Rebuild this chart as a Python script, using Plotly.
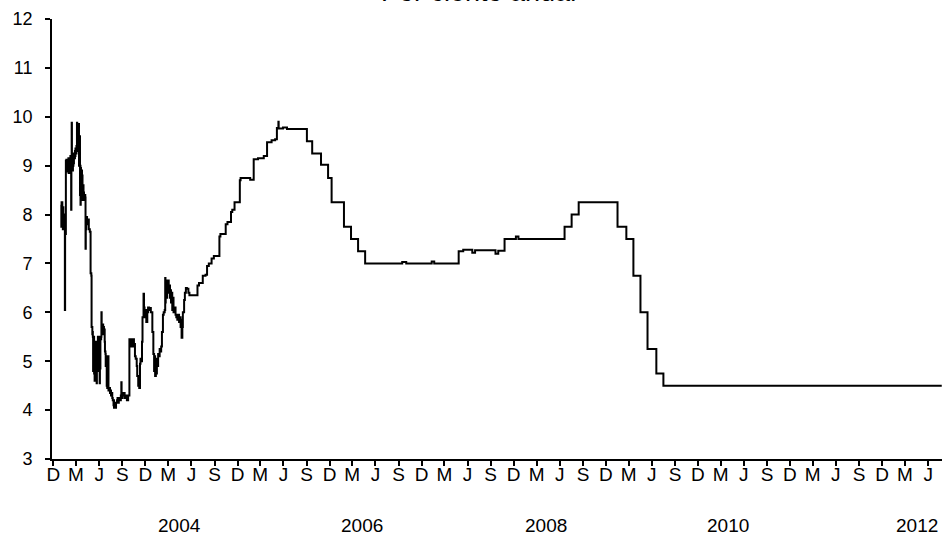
import plotly.graph_objects as go

# Tasa de interés interbancaria a un día (por ciento anual), lecturas del gráfico
fechas = [
    "2002-12-30", "2003-01-02", "2003-01-03", "2003-01-06", "2003-01-07", "2003-01-08",
    "2003-01-09", "2003-01-10", "2003-01-13", "2003-01-14", "2003-01-15", "2003-01-16",
    "2003-01-17", "2003-01-20", "2003-01-21", "2003-01-22", "2003-01-23", "2003-01-24",
    "2003-01-27", "2003-01-28", "2003-01-29", "2003-01-30", "2003-01-31", "2003-02-03",
    "2003-02-04", "2003-02-05", "2003-02-06", "2003-02-07", "2003-02-10", "2003-02-11",
    "2003-02-12", "2003-02-13", "2003-02-14", "2003-02-17", "2003-02-18", "2003-02-19",
    "2003-02-20", "2003-02-21", "2003-02-24", "2003-02-25", "2003-02-26", "2003-02-27",
    "2003-02-28", "2003-03-03", "2003-03-04", "2003-03-05", "2003-03-06", "2003-03-07",
    "2003-03-10", "2003-03-11", "2003-03-12", "2003-03-13", "2003-03-14", "2003-03-17",
    "2003-03-18", "2003-03-19", "2003-03-20", "2003-03-21", "2003-03-24", "2003-03-25",
    "2003-03-26", "2003-03-27", "2003-03-28", "2003-03-31", "2003-04-01", "2003-04-02",
    "2003-04-03", "2003-04-07", "2003-04-08", "2003-04-09", "2003-04-10", "2003-04-11",
    "2003-04-14", "2003-04-15", "2003-04-21", "2003-04-25", "2003-04-28", "2003-05-01",
    "2003-05-02", "2003-05-05", "2003-05-06", "2003-05-07", "2003-05-08", "2003-05-09",
    "2003-05-12", "2003-05-13", "2003-05-14", "2003-05-15", "2003-05-16", "2003-05-19",
    "2003-05-20", "2003-05-21", "2003-05-22", "2003-05-23", "2003-05-26", "2003-05-27",
    "2003-05-28", "2003-05-29", "2003-05-30", "2003-06-02", "2003-06-03", "2003-06-04",
    "2003-06-05", "2003-06-06", "2003-06-09", "2003-06-10", "2003-06-11", "2003-06-12",
    "2003-06-13", "2003-06-16", "2003-06-17", "2003-06-18", "2003-06-20", "2003-06-23",
    "2003-06-24", "2003-06-26", "2003-06-27", "2003-06-30", "2003-07-01", "2003-07-02",
    "2003-07-03", "2003-07-07", "2003-07-08", "2003-07-10", "2003-07-14", "2003-07-16",
    "2003-07-18", "2003-07-21", "2003-07-23", "2003-07-25", "2003-07-28", "2003-07-29",
    "2003-07-30", "2003-07-31", "2003-08-01", "2003-08-04", "2003-08-05", "2003-08-07",
    "2003-08-11", "2003-08-13", "2003-08-15", "2003-08-18", "2003-08-22", "2003-08-26",
    "2003-08-28", "2003-08-29", "2003-09-01", "2003-09-05", "2003-09-10", "2003-09-15",
    "2003-09-19", "2003-09-24", "2003-09-29", "2003-10-01", "2003-10-03", "2003-10-07",
    "2003-10-10", "2003-10-14", "2003-10-17", "2003-10-21", "2003-10-24", "2003-10-28",
    "2003-10-30", "2003-11-03", "2003-11-05", "2003-11-07", "2003-11-10", "2003-11-12",
    "2003-11-14", "2003-11-18", "2003-11-20", "2003-11-24", "2003-11-26", "2003-11-28",
    "2003-12-01", "2003-12-03", "2003-12-05", "2003-12-09", "2003-12-12", "2003-12-16",
    "2003-12-19", "2003-12-23", "2003-12-29", "2004-01-02", "2004-01-05", "2004-01-07",
    "2004-01-09", "2004-01-12", "2004-01-14", "2004-01-16", "2004-01-19", "2004-01-21",
    "2004-01-23", "2004-01-27", "2004-01-29", "2004-02-02", "2004-02-05", "2004-02-09",
    "2004-02-12", "2004-02-16", "2004-02-18", "2004-02-19", "2004-02-20", "2004-02-23",
    "2004-02-24", "2004-02-25", "2004-02-26", "2004-02-27", "2004-03-01", "2004-03-03",
    "2004-03-05", "2004-03-08", "2004-03-10", "2004-03-12", "2004-03-15", "2004-03-17",
    "2004-03-19", "2004-03-22", "2004-03-25", "2004-03-30", "2004-04-02", "2004-04-06",
    "2004-04-08", "2004-04-13", "2004-04-15", "2004-04-19", "2004-04-21", "2004-04-23",
    "2004-04-26", "2004-04-28", "2004-05-03", "2004-05-06", "2004-05-10", "2004-05-14",
    "2004-05-20", "2004-05-24", "2004-06-25", "2004-07-01", "2004-07-16", "2004-07-27",
    "2004-08-02", "2004-08-09", "2004-08-20", "2004-08-29", "2004-09-20", "2004-09-24",
    "2004-10-15", "2004-10-22", "2004-11-05", "2004-11-10", "2004-11-19", "2004-12-10",
    "2004-12-13", "2005-01-20", "2005-02-03", "2005-02-20", "2005-03-15", "2005-03-28",
    "2005-04-15", "2005-04-29", "2005-05-06", "2005-05-12", "2005-05-13", "2005-05-30",
    "2005-06-15", "2005-09-02", "2005-09-23", "2005-10-28", "2005-11-25", "2005-12-09",
    "2006-01-27", "2006-02-24", "2006-03-24", "2006-04-21", "2006-09-15", "2006-10-01",
    "2007-01-10", "2007-01-20", "2007-04-27", "2007-05-15", "2007-06-20", "2007-07-01",
    "2007-09-20", "2007-10-01", "2007-10-26", "2007-12-10", "2007-12-20", "2008-06-20",
    "2008-07-18", "2008-08-15", "2009-01-16", "2009-02-20", "2009-03-20", "2009-04-17",
    "2009-05-15", "2009-06-19", "2009-07-17", "2012-07-25",
]
tasas = [
    8.20, 7.75, 8.25, 7.80, 8.10, 7.70,
    8.15, 7.90, 8.00, 7.70, 7.95, 6.05,
    7.60, 9.10, 9.05, 9.12, 8.90, 9.10,
    8.88, 9.05, 8.95, 9.15, 8.85, 9.05,
    8.90, 9.10, 8.95, 9.20, 8.10, 9.00,
    9.88, 9.05, 8.90, 9.15, 9.00, 9.20,
    9.05, 9.25, 9.15, 9.30, 9.20, 9.35,
    9.25, 9.40, 9.30, 9.88, 9.40, 9.85,
    9.80, 9.30, 9.85, 9.00, 9.60, 8.40,
    9.00, 8.20, 8.95, 8.40, 8.90, 8.35,
    8.80, 8.30, 8.60, 8.35, 8.45, 8.30,
    8.40, 8.35, 7.30, 7.95, 7.70, 7.95,
    7.80, 7.90, 7.70, 7.65, 6.80, 6.75,
    5.70, 5.55, 5.60, 5.50, 4.80, 5.50,
    4.75, 5.40, 4.60, 5.35, 4.80, 5.30,
    4.70, 5.40, 4.55, 5.20, 4.90, 5.50,
    4.95, 5.40, 4.80, 5.50, 4.55, 5.30,
    4.85, 5.45, 5.50, 6.00, 5.60, 5.70,
    5.55, 5.75, 5.60, 5.70, 5.65, 5.40,
    5.20, 5.15, 4.90, 5.10, 4.50, 4.70,
    4.45, 5.10, 4.40, 4.45, 4.35, 4.40,
    4.30, 4.35, 4.25, 4.20, 4.10, 4.20,
    4.05, 4.15, 4.05, 4.10, 4.05, 4.15,
    4.20, 4.25, 4.15, 4.25, 4.20, 4.30,
    4.57, 4.25, 4.30, 4.35, 4.25, 4.30,
    4.20, 4.30, 5.45, 5.30, 5.40, 5.45,
    5.30, 5.45, 5.35, 5.10, 5.05, 4.90,
    4.70, 4.50, 4.60, 4.45, 4.95, 5.05,
    5.00, 5.40, 5.90, 6.38, 6.10, 6.05,
    5.90, 6.05, 5.80, 6.00, 6.10, 6.05,
    6.09, 6.00, 5.60, 5.15, 4.80, 5.10,
    4.70, 5.05, 4.75, 5.00, 4.90, 5.15,
    5.10, 5.25, 5.20, 5.30, 5.60, 5.95,
    6.00, 6.05, 6.70, 6.20, 6.65, 6.35,
    6.60, 6.30, 6.55, 6.45, 6.65, 6.40,
    6.55, 6.30, 6.45, 6.20, 6.40, 6.05,
    6.30, 6.00, 6.10, 5.95, 5.90, 5.85,
    5.95, 5.80, 5.90, 5.70, 5.85, 5.48,
    5.70, 6.00, 6.25, 6.40, 6.50, 6.48,
    6.40, 6.35, 6.55, 6.60, 6.75, 6.77,
    6.95, 7.00, 7.10, 7.15, 7.55, 7.60,
    7.80, 7.85, 8.05, 8.10, 8.25, 8.70,
    8.75, 8.71, 9.13, 9.15, 9.20, 9.48,
    9.52, 9.54, 9.77, 9.90, 9.76, 9.78,
    9.75, 9.50, 9.25, 9.02, 8.75, 8.25,
    7.75, 7.50, 7.25, 7.00, 7.03, 7.00,
    7.04, 7.00, 7.25, 7.28, 7.22, 7.27,
    7.20, 7.26, 7.50, 7.55, 7.50, 7.75,
    8.00, 8.25, 7.75, 7.50, 6.75, 6.00,
    5.25, 4.75, 4.50, 4.50,
]

# Eje horizontal: marcas trimestrales y etiquetas de año
marcas_fechas = [
    "2002-12-01", "2003-03-01", "2003-06-01", "2003-09-01",
    "2003-12-01", "2004-03-01", "2004-06-01", "2004-09-01",
    "2004-12-01", "2005-03-01", "2005-06-01", "2005-09-01",
    "2005-12-01", "2006-03-01", "2006-06-01", "2006-09-01",
    "2006-12-01", "2007-03-01", "2007-06-01", "2007-09-01",
    "2007-12-01", "2008-03-01", "2008-06-01", "2008-09-01",
    "2008-12-01", "2009-03-01", "2009-06-01", "2009-09-01",
    "2009-12-01", "2010-03-01", "2010-06-01", "2010-09-01",
    "2010-12-01", "2011-03-01", "2011-06-01", "2011-09-01",
    "2011-12-01", "2012-03-01", "2012-06-01",
]
marcas_texto = ["D", "M", "J", "S"] * 9 + ["D", "M", "J"]
anios = ["2004", "2006", "2008", "2010", "2012"]
anios_pos = ["2004-04-16", "2006-04-10", "2008-04-06", "2010-04-01", "2012-04-16"]
y_marcas = [3, 4, 5, 6, 7, 8, 9, 10, 11, 12]

FONT = "Liberation Sans, Arial, sans-serif"

fig = go.Figure()
fig.add_trace(go.Scatter(
    x=fechas, y=tasas, mode="lines",
    line=dict(color="black", width=2, shape="hv"),
    showlegend=False, hoverinfo="skip",
))

for txt, pos in zip(anios, anios_pos):
    fig.add_annotation(
        x=pos, xref="x", y=0, yref="paper", text=txt, showarrow=False,
        yanchor="middle", yshift=-66, font=dict(family=FONT, size=19, color="black"),
    )

fig.add_annotation(
    x=0.479, xref="paper", y=1, yref="paper", text="Por ciento anual",
    showarrow=False, yanchor="bottom", yshift=10,
    font=dict(family=FONT, size=27, color="black"),
)

fig.update_layout(
    width=945, height=548,
    margin=dict(l=52, r=3, t=19, b=89, autoexpand=False),
    paper_bgcolor="white", plot_bgcolor="white",
    font=dict(family=FONT, size=18, color="black"),
    xaxis=dict(
        type="date", range=["2002-11-26", "2012-07-26"], automargin=False,
        tickmode="array", tickvals=marcas_fechas, ticktext=marcas_texto,
        ticks="outside", ticklen=5, tickwidth=1.5, tickcolor="black",
        showline=True, linecolor="black", linewidth=1.8,
        showgrid=False, zeroline=False, tickangle=0, ticklabelstandoff=-8,
        tickfont=dict(family=FONT, size=19, color="black"),
    ),
    yaxis=dict(
        range=[3, 12], tickmode="array", tickvals=y_marcas, automargin=False,
        ticks="outside", ticklen=5, tickwidth=1.5, tickcolor="black",
        showline=True, linecolor="black", linewidth=1.8,
        showgrid=False, zeroline=False, ticklabelstandoff=9,
        tickfont=dict(family=FONT, size=18, color="black"),
    ),
)

fig.write_html(
    "out.html",
    config={"displayModeBar": False},
    post_script="document.body.style.margin='0';document.body.style.overflow='hidden';",
)
